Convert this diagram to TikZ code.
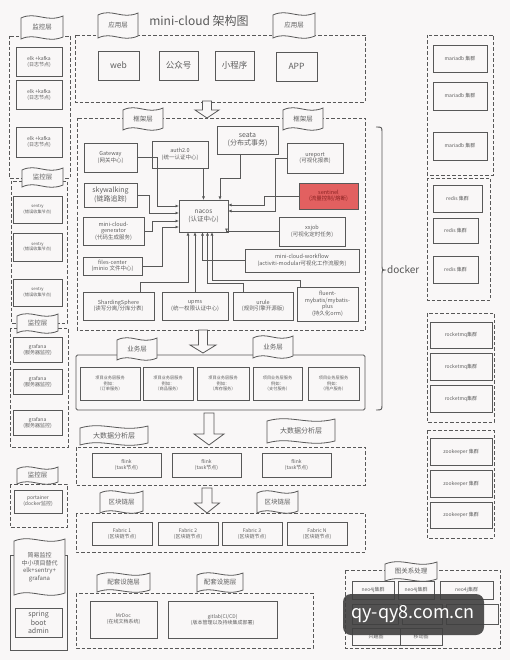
\documentclass[tikz,border=0pt]{standalone}
\usepackage{fontspec}
\setmainfont{Noto Sans CJK SC}
\usetikzlibrary{arrows.meta,calc}
\definecolor{bg}{RGB}{249,247,247}
\definecolor{ln}{RGB}{88,88,88}
\definecolor{tx}{RGB}{95,95,95}
\definecolor{redf}{RGB}{226,96,96}
\definecolor{redt}{RGB}{140,35,35}
\newcommand\fsa{\fontsize{5}{6}\selectfont}
\newcommand\fsb{\fontsize{6.5}{8}\selectfont}
\newcommand\fsc{\fontsize{7}{8.5}\selectfont}
\newcommand\fsd{\fontsize{8.5}{10}\selectfont}
\newcommand\fse{\fontsize{4.2}{5.2}\selectfont}
\tikzset{
 box/.style={draw=ln, line width=0.9pt, fill=bg, inner sep=0pt, outer sep=0pt, align=center, text=tx, font=\fsa},
 dbox/.style={draw=ln, line width=0.9pt, dash pattern=on 3.5pt off 2pt},
 flagline/.style={draw=ln, line width=0.8pt, fill=bg},
 flagtext/.style={text=tx, font=\fsb, inner sep=0pt, align=center},
 harr/.style={draw=ln, line width=0.8pt, fill=bg},
 conn/.style={draw=ln, line width=0.8pt, -{Latex[length=3.5pt,width=3pt]}},
}
% box: [opt] x1 y1 x2 y2 name text
\newcommand\bx[7][]{\node[box,#1,minimum width={(#4-#2)*1pt},minimum height={(#5-#3)*1pt}] (#6) at ({(#2+#4)/2},{(#3+#5)/2}) {#7};}
% flag: [opt] name x y w h text
\newcommand\flag[7][]{%
 \draw[flagline] (#3,#4+3) .. controls (#3+0.35*#5,#4-4) and (#3+0.6*#5,#4+8) .. (#3+#5,#4+1) -- (#3+#5,#4+#6-2) .. controls (#3+0.6*#5,#4+#6+5) and (#3+0.35*#5,#4+#6-7) .. (#3,#4+#6) -- cycle;
 \node[flagtext,#1] (#2) at (#3+0.5*#5,#4+0.5*#6+0.5) {#7};}
% hollow arrow: cx ytop ybot shafthalf headhalf headlen
\newcommand\harrow[6]{\draw[harr] (#1-#4,#2) -- (#1+#4,#2) -- (#1+#4,#3-#6) -- (#1+#5,#3-#6) -- (#1,#3) -- (#1-#5,#3-#6) -- (#1-#4,#3-#6) -- cycle;}
\begin{document}
\begin{tikzpicture}[x=1pt,y=-1pt]
\fill[bg] (0,0) rectangle (510,660);
\useasboundingbox (0,0) rectangle (510,660);

% ---------------- left column ----------------
\draw[dbox] (9,36) rectangle (70,178);
\flag{fL1}{21}{15}{42}{24}{监控层}
\bx{16}{47}{62}{76}{elk1}{elk +kafka\\(日志节点)}
\bx{16}{80}{62}{109}{elk2}{elk +kafka\\(日志节点)}
\bx{16}{127}{62}{157}{elk3}{elk +kafka\\(日志节点)}
\draw[dbox] (11,181) rectangle (67,323);
\flag{fL2}{22}{167}{41}{20}{监控层}
\bx[font=\fse]{13}{196}{62}{223}{sen1}{sentry\\(错误收集节点)}
\bx[font=\fse]{13}{233}{62}{261}{sen2}{sentry\\(错误收集节点)}
\bx[font=\fse]{13}{279}{62}{306}{sen3}{sentry\\(错误收集节点)}
\draw[dbox] (10,328) rectangle (68,447);
\flag{fL3}{17}{313}{41}{20}{监控层}
\bx{13}{337}{62}{362}{gra1}{grafana\\(服务器监控)}
\bx{13}{369}{62}{394}{gra2}{grafana\\(服务器监控)}
\bx{13}{410}{62}{435}{gra3}{grafana\\(服务器监控)}
\draw[dbox] (10,484) rectangle (67,527);
\flag{fL4}{17}{466}{41}{18}{监控层}
\bx{14}{490}{62}{513}{port}{portainer\\(docker监控)}
\draw[ln,line width=0.9pt] (10,555) rectangle (67,650);
\flag[font=\fontsize{6}{7.5}\selectfont]{fSimple}{14}{538}{51}{57}{简易监控\\中小项目替代\\elk+sentry+\\grafana}
\bx[font=\fontsize{7}{8.5}\selectfont]{15}{608}{62}{637}{sba}{spring\\boot\\admin}

% ---------------- application layer ----------------
\node[text=ln,font=\fontsize{12}{14}\selectfont,inner sep=0pt] (title) at (199,21) {mini-cloud 架构图};
\draw[dbox] (75,35) rectangle (365,102);
\flag{fA1}{98}{12}{40}{26}{应用层}
\flag{fA2}{273}{12}{42}{26}{应用层}
\bx[font=\fsd]{98}{51}{139}{80}{web}{web}
\bx[font=\fsd]{159}{51}{198}{80}{gzh}{公众号}
\bx[font=\fsd]{215}{51}{254}{80}{xcx}{小程序}
\bx[font=\fsd]{276}{52}{317}{81}{app}{APP}
\harrow{207}{101}{118}{4.5}{12}{8}

% ---------------- framework layer ----------------
\draw[dbox] (77,118) rectangle (365,330);
\flag{fF1}{123}{107}{40}{23}{框架层}
\flag{fF2}{283}{107}{40}{23}{框架层}
\bx[font=\fontsize{5.5}{6.5}\selectfont]{84}{143}{137}{172}{gw}{Gateway\\(网关中心)}
\bx[font=\fontsize{5.5}{6.5}\selectfont]{152}{141}{208}{168}{auth}{auth2.0\\(统一认证中心)}
\bx[font=\fsc]{217}{126}{278}{154}{seata}{seata\\(分布式事务)}
\bx[font=\fontsize{5.5}{6.5}\selectfont]{287}{143}{343}{173}{urep}{ureport\\(可视化报表)}
\bx[fill=redf,text=redt,font=\fontsize{5.5}{6.5}\selectfont]{299}{183}{358}{209}{sent}{sentinel\\(流量控制/熔断)}
\bx[font=\fsc]{84}{183}{137}{207}{sky}{skywalking\\(链路追踪)}
\bx[font=\fsb]{179}{200}{228}{232}{nacos}{nacos\\(认证中心)}
\bx[font=\fontsize{5.5}{6.5}\selectfont]{83}{217}{144}{245}{gen}{mini-cloud-\\generator\\(代码生成服务)}
\bx[font=\fontsize{5.5}{6.5}\selectfont]{279}{217}{345}{246}{xxjob}{xxjob\\(可视化定时任务)}
\bx[font=\fontsize{5.5}{6.5}\selectfont]{83}{257}{142}{275}{files}{files-center\\(minio 文件中心)}
\bx[font=\fontsize{5.5}{6.5}\selectfont]{245}{249}{359}{272}{wf}{mini-cloud-workflow\\(activiti-modular可视化工作流服务)}
\bx[font=\fontsize{5.5}{6.5}\selectfont]{83}{292}{154}{320}{shard}{ShardingSphere\\(读写分离/分库分表)}
\bx[font=\fontsize{5.5}{6.5}\selectfont]{162}{292}{228}{320}{upms}{upms\\(统一权限认证中心)}
\bx[font=\fontsize{5.5}{6.5}\selectfont]{233}{292}{293}{320}{urule}{urule\\(规则引擎开源版)}
\bx[font=\fontsize{5.5}{6.5}\selectfont]{297}{287}{358}{321}{fluent}{fluent-\\mybatis/mybatis-\\plus\\(持久化orm)}

\draw[conn] (gw.east) -- ++(20,0) |- ([yshift=10pt]nacos.west);
\draw[conn] (sky.east) -- ++(12,0) |- ([yshift=3pt]nacos.west);
\draw[conn] (gen.east) -- ++(8,0) |- ([yshift=-5pt]nacos.west);
\draw[conn] (files.east) -- ++(20,0) |- ([yshift=-11pt]nacos.west);
\draw[conn] (auth.south -| nacos.north) -- (nacos.north);
\draw[conn] ([xshift=-7pt]seata.south) -- ++(0,24) -| ([xshift=16.5pt]nacos.north);
\draw[conn] (sent.west) -- ++(-35,0) |- ([yshift=11pt]nacos.east);
\draw[conn] (urep.west) -- ++(-12,0) |- ([yshift=5pt]nacos.east);
\draw[conn] (xxjob.west) -| ([xshift=23pt]nacos.south);
\draw[conn] ([xshift=22pt]shard.north) -- ++(0,-10) -| ([xshift=-15.5pt]nacos.south);
\draw[conn] (upms.north -| nacos.south) ++(-8.5,0) -- ++(0,-60);
\draw[conn] ([xshift=-20pt]urule.north) -- ++(0,-9) -| ([xshift=4pt]nacos.south);
\draw[conn] ([xshift=-27.5pt]fluent.north) -- ++(0,-7) -| ([xshift=8.5pt]nacos.south);
\draw[conn] (wf.west) -| ([xshift=-1pt]nacos.south);

% docker brace
\draw[ln,line width=0.9pt] (376,127) .. controls (382,127) .. (382,133) -- (382,265) .. controls (382,270) .. (386,270) .. controls (382,270) .. (382,275) -- (382,404) .. controls (382,410) .. (376,410);
\node[anchor=west,text=ln,font=\fontsize{10}{12}\selectfont,inner sep=0pt] (docker) at (387,270) {docker};

% ---------------- business layer ----------------
\harrow{203}{330}{353}{4.5}{13}{8}
\draw[ln,line width=0.9pt,rounded corners=1.5pt] (76,355) rectangle (365,410);
\flag{fB1}{117}{337}{40}{23}{业务层}
\flag{fB2}{253}{335}{40}{23}{业务层}
\bx[font=\fse]{80}{367}{140}{400}{s1}{项目业务层服务\\例如：\\（订单服务）}
\bx[font=\fse]{143}{367}{193}{400}{s2}{项目业务层服务\\例如：\\（商品服务）}
\bx[font=\fse]{197}{367}{249}{400}{s3}{项目业务层服务\\例如：\\（库存服务）}
\bx[font=\fse]{253}{367}{302}{400}{s4}{项目业务层服务\\例如：\\（支付服务）}
\bx[font=\fse]{308}{367}{359}{400}{s5}{项目业务层服务\\例如：\\（用户服务）}

% ---------------- big data ----------------
\harrow{209}{413}{445}{5}{15}{11}
\draw[dbox] (76,447) rectangle (365,485);
\flag[font=\fsc]{fD1}{80}{425}{68}{20}{大数据分析层}
\flag[font=\fsc]{fD2}{267}{418}{68}{25}{大数据分析层}
\bx{92}{453}{161}{477}{fl1}{flink\\(task节点)}
\bx{172}{453}{241}{477}{fl2}{flink\\(task节点)}
\bx{262}{453}{331}{477}{fl3}{flink\\(task节点)}

% ---------------- blockchain ----------------
\harrow{207}{488}{513}{5}{12.5}{10}
\draw[dbox] (76,513) rectangle (365,552);
\flag{fC1}{100}{490}{43}{23}{区块链层}
\flag{fC2}{257}{490}{41}{23}{区块链层}
\bx{92}{522}{152}{545}{fa1}{Fabric 1\\(区块链节点)}
\bx{158}{522}{218}{545}{fa2}{Fabric 2\\(区块链节点)}
\bx{222}{522}{282}{545}{fa3}{Fabric 3\\(区块链节点)}
\bx{287}{522}{347}{545}{faN}{Fabric N\\(区块链节点)}

% ---------------- supporting ----------------
\draw[dbox] (76,593) rectangle (313,648);
\flag{fS1}{97}{572}{53}{20}{配套设施层}
\flag{fS2}{197}{572}{46}{20}{配套设施层}
\bx{90}{601}{157}{638}{mrdoc}{MrDoc\\(在线文档系统)}
\bx{168}{601}{277}{638}{gitlab}{gitlab(CI/CD)\\(版本管理以及持续集成部署)}

% ---------------- right column ----------------
\draw[dbox] (427,35) rectangle (493,175);
\bx{433}{45}{487}{72}{ma1}{mariadb 集群}
\bx{433}{82}{487}{110}{ma2}{mariadb 集群}
\bx{433}{132}{487}{160}{ma3}{mariadb 集群}
\draw[dbox] (427,178) rectangle (490,300);
\bx{433}{185}{482}{212}{re1}{redis 集群}
\bx{433}{218}{478}{243}{re2}{redis 集群}
\bx{433}{256}{478}{283}{re3}{redis 集群}
\draw[dbox] (427,313) rectangle (494,422);
\bx{430}{322}{492}{348}{rm1}{rocketmq集群}
\bx{430}{353}{492}{380}{rm2}{rocketmq集群}
\bx{430}{385}{492}{412}{rm3}{rocketmq集群}
\draw[dbox] (427,430) rectangle (494,538);
\bx{430}{438}{492}{465}{zk1}{zookeeper 集群}
\bx{430}{470}{492}{497}{zk2}{zookeeper 集群}
\bx{430}{502}{492}{528}{zk3}{zookeeper 集群}

% graph section
\draw[dbox] (345,570) rectangle (500,648);
\flag{fG}{385}{561}{52}{20}{图关系处理}
\bx{352}{581}{394}{599}{n1}{neo4j集群}
\bx{398}{581}{434}{599}{n2}{neo4j集群}
\bx{440}{581}{493}{599}{n3}{neo4j集群}
\bx{352}{604}{398}{624}{g1}{}
\bx{402}{604}{442}{624}{g2}{}
\bx{446}{604}{498}{624}{g3}{}
\bx{352}{628}{400}{645}{g4}{兴趣图}
\bx{400}{628}{442}{645}{g5}{移动图}

% watermark
\fill[black!75,opacity=0.9,rounded corners=8pt] (343,594) rectangle (484,635);
\node[text=white,font=\fontsize{18}{20}\selectfont,inner sep=0pt] (wm) at (413,614) {qy-qy8.com.cn};
\end{tikzpicture}
\end{document}
